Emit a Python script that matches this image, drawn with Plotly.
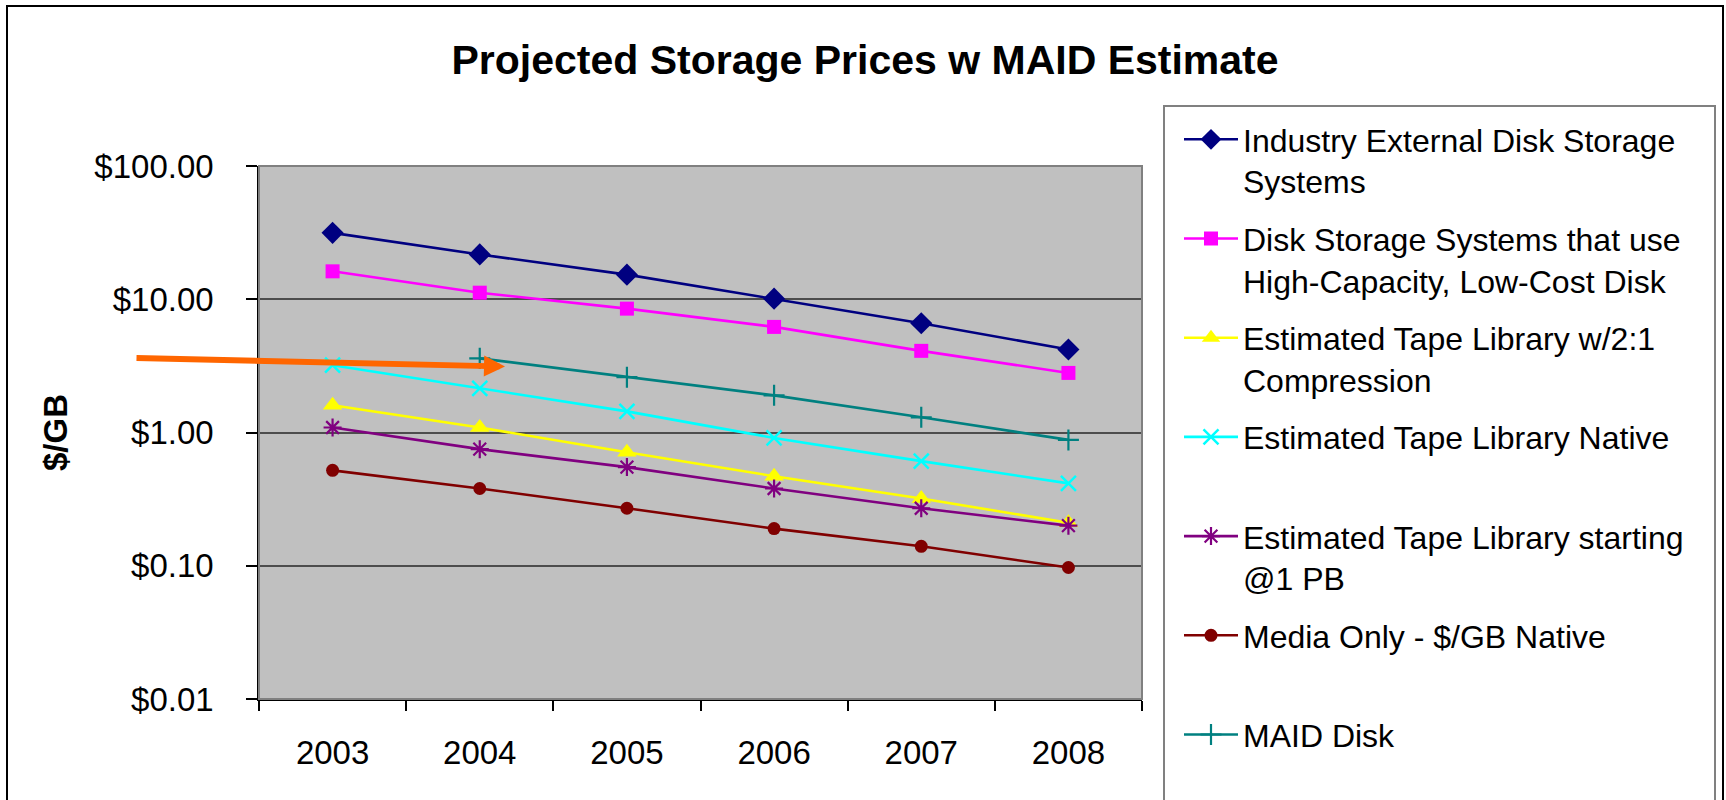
import plotly.graph_objects as go

# ---- data ----
years = ["2003", "2004", "2005", "2006", "2007", "2008"]
industry = [31.5, 21.7, 15.3, 10.1, 6.6, 4.2]
disk_hc = [16.2, 11.2, 8.5, 6.2, 4.1, 2.8]
tape_2to1 = [1.60, 1.09, 0.71, 0.47, 0.32, 0.21]
tape_native = [3.2, 2.14, 1.44, 0.91, 0.61, 0.415]
tape_1pb = [1.09, 0.75, 0.55, 0.38, 0.27, 0.20]
media = [0.52, 0.38, 0.27, 0.19, 0.14, 0.097]
maid = [None, 3.6, 2.6, 1.9, 1.3, 0.88]

y_tickvals = [0.01, 0.1, 1, 10, 100]
y_ticktext = ["$0.01", "$0.10", "$1.00", "$10.00", "$100.00"]

FONT = "Arial, Liberation Sans, sans-serif"

# geometry (px)
W, H = 1726, 800
L, R, T, B = 259, 1142, 166, 699


def px_x(p):
    return (p - L) / (R - L)


def px_y(p):
    return (B - p) / (B - T)


series = [
    ("Industry External Disk Storage<br>Systems", industry, "#000080",
     dict(symbol="diamond", size=17, color="#000080")),
    ("Disk Storage Systems that use<br>High-Capacity, Low-Cost Disk", disk_hc, "#FF00FF",
     dict(symbol="square", size=14, color="#FF00FF")),
    ("Estimated Tape Library w/2:1<br>Compression", tape_2to1, "#FFFF00",
     dict(symbol="triangle-up", size=17, color="#FFFF00")),
    ("Estimated Tape Library Native<br>\u00a0", tape_native, "#00FFFF",
     dict(symbol="x-thin-open", size=15, color="#00FFFF", line=dict(width=2.5, color="#00FFFF"))),
    ("Estimated Tape Library starting<br>@1 PB", tape_1pb, "#800080",
     dict(symbol="asterisk-open", size=15, color="#800080", line=dict(width=2.2, color="#800080"))),
    ("Media Only - $/GB Native<br>\u00a0", media, "#800000",
     dict(symbol="circle", size=13, color="#800000")),
    ("MAID Disk<br>\u00a0", maid, "#008080",
     dict(symbol="cross-thin-open", size=15, color="#008080", line=dict(width=2.2, color="#008080"))),
]

fig = go.Figure()
for i, (name, vals, col, mk) in enumerate(series):
    fig.add_trace(go.Scatter(
        x=years, y=vals, name=name, mode="lines+markers",
        line=dict(color=col, width=2.6), marker=mk,
        legendgroup=f"g{i}", connectgaps=False,
    ))

shapes = [
    # plot-area border (top/right grey)
    dict(type="rect", xref="paper", yref="paper", x0=0, x1=1, y0=0, y1=1,
         line=dict(color="#808080", width=2), layer="above"),
    # outer chart border
    dict(type="rect", xref="paper", yref="paper",
         x0=px_x(7), x1=px_x(1723), y0=px_y(830), y1=px_y(6),
         line=dict(color="#000000", width=2)),
    # legend box
    dict(type="rect", xref="paper", yref="paper",
         x0=px_x(1164), x1=px_x(1715), y0=px_y(830), y1=px_y(106),
         line=dict(color="#808080", width=2)),
]

fig.update_layout(
    width=W, height=H,
    margin=dict(l=L, r=W - R, t=T, b=H - B, autoexpand=False),
    paper_bgcolor="white", plot_bgcolor="#C0C0C0",
    font=dict(family=FONT, size=33, color="black"),
    title=dict(text="<b>Projected Storage Prices w MAID Estimate</b>",
               font=dict(family=FONT, size=41, color="black"),
               x=865 / W, xanchor="center", y=1 - 60 / H, yanchor="middle",
               xref="container", yref="container"),
    xaxis=dict(type="category", categoryorder="array", categoryarray=years,
               range=[-0.5, 5.5], tickson="boundaries", ticks="outside",
               ticklen=10, tickcolor="black", tickwidth=1.5,
               showline=True, linecolor="black", linewidth=1.5,
               showgrid=False, ticklabelstandoff=24,
               tickfont=dict(size=33)),
    yaxis=dict(type="log", range=[-2, 2], tickvals=y_tickvals, ticktext=y_ticktext,
               ticks="outside", ticklen=11, tickcolor="black", tickwidth=1.5,
               showline=True, linecolor="black", linewidth=1.5,
               showgrid=True, gridcolor="#4d4d4d", gridwidth=1.5,
               ticklabelstandoff=26, tickfont=dict(size=33),
               title=dict(text="<b>$/GB</b>", font=dict(size=33), standoff=17)),
    legend=dict(x=px_x(1179), xanchor="left", y=px_y(112), yanchor="top",
                bgcolor="rgba(0,0,0,0)", borderwidth=0,
                font=dict(size=32, family=FONT), valign="top",
                tracegroupgap=13, itemwidth=54, maxheight=900),
    shapes=shapes,
    annotations=[dict(
        x=px_x(505), y=px_y(366.5), xref="paper", yref="paper",
        ax=135 - 505, ay=358 - 366.5, axref="pixel", ayref="pixel",
        text="", showarrow=True, arrowhead=2, arrowsize=0.7,
        arrowwidth=6, arrowcolor="#FF6600",
    )],
)

fig.write_html("out.html", config={"displayModeBar": False},
               post_script="document.body.style.margin='0px';document.body.style.overflow='hidden';")
